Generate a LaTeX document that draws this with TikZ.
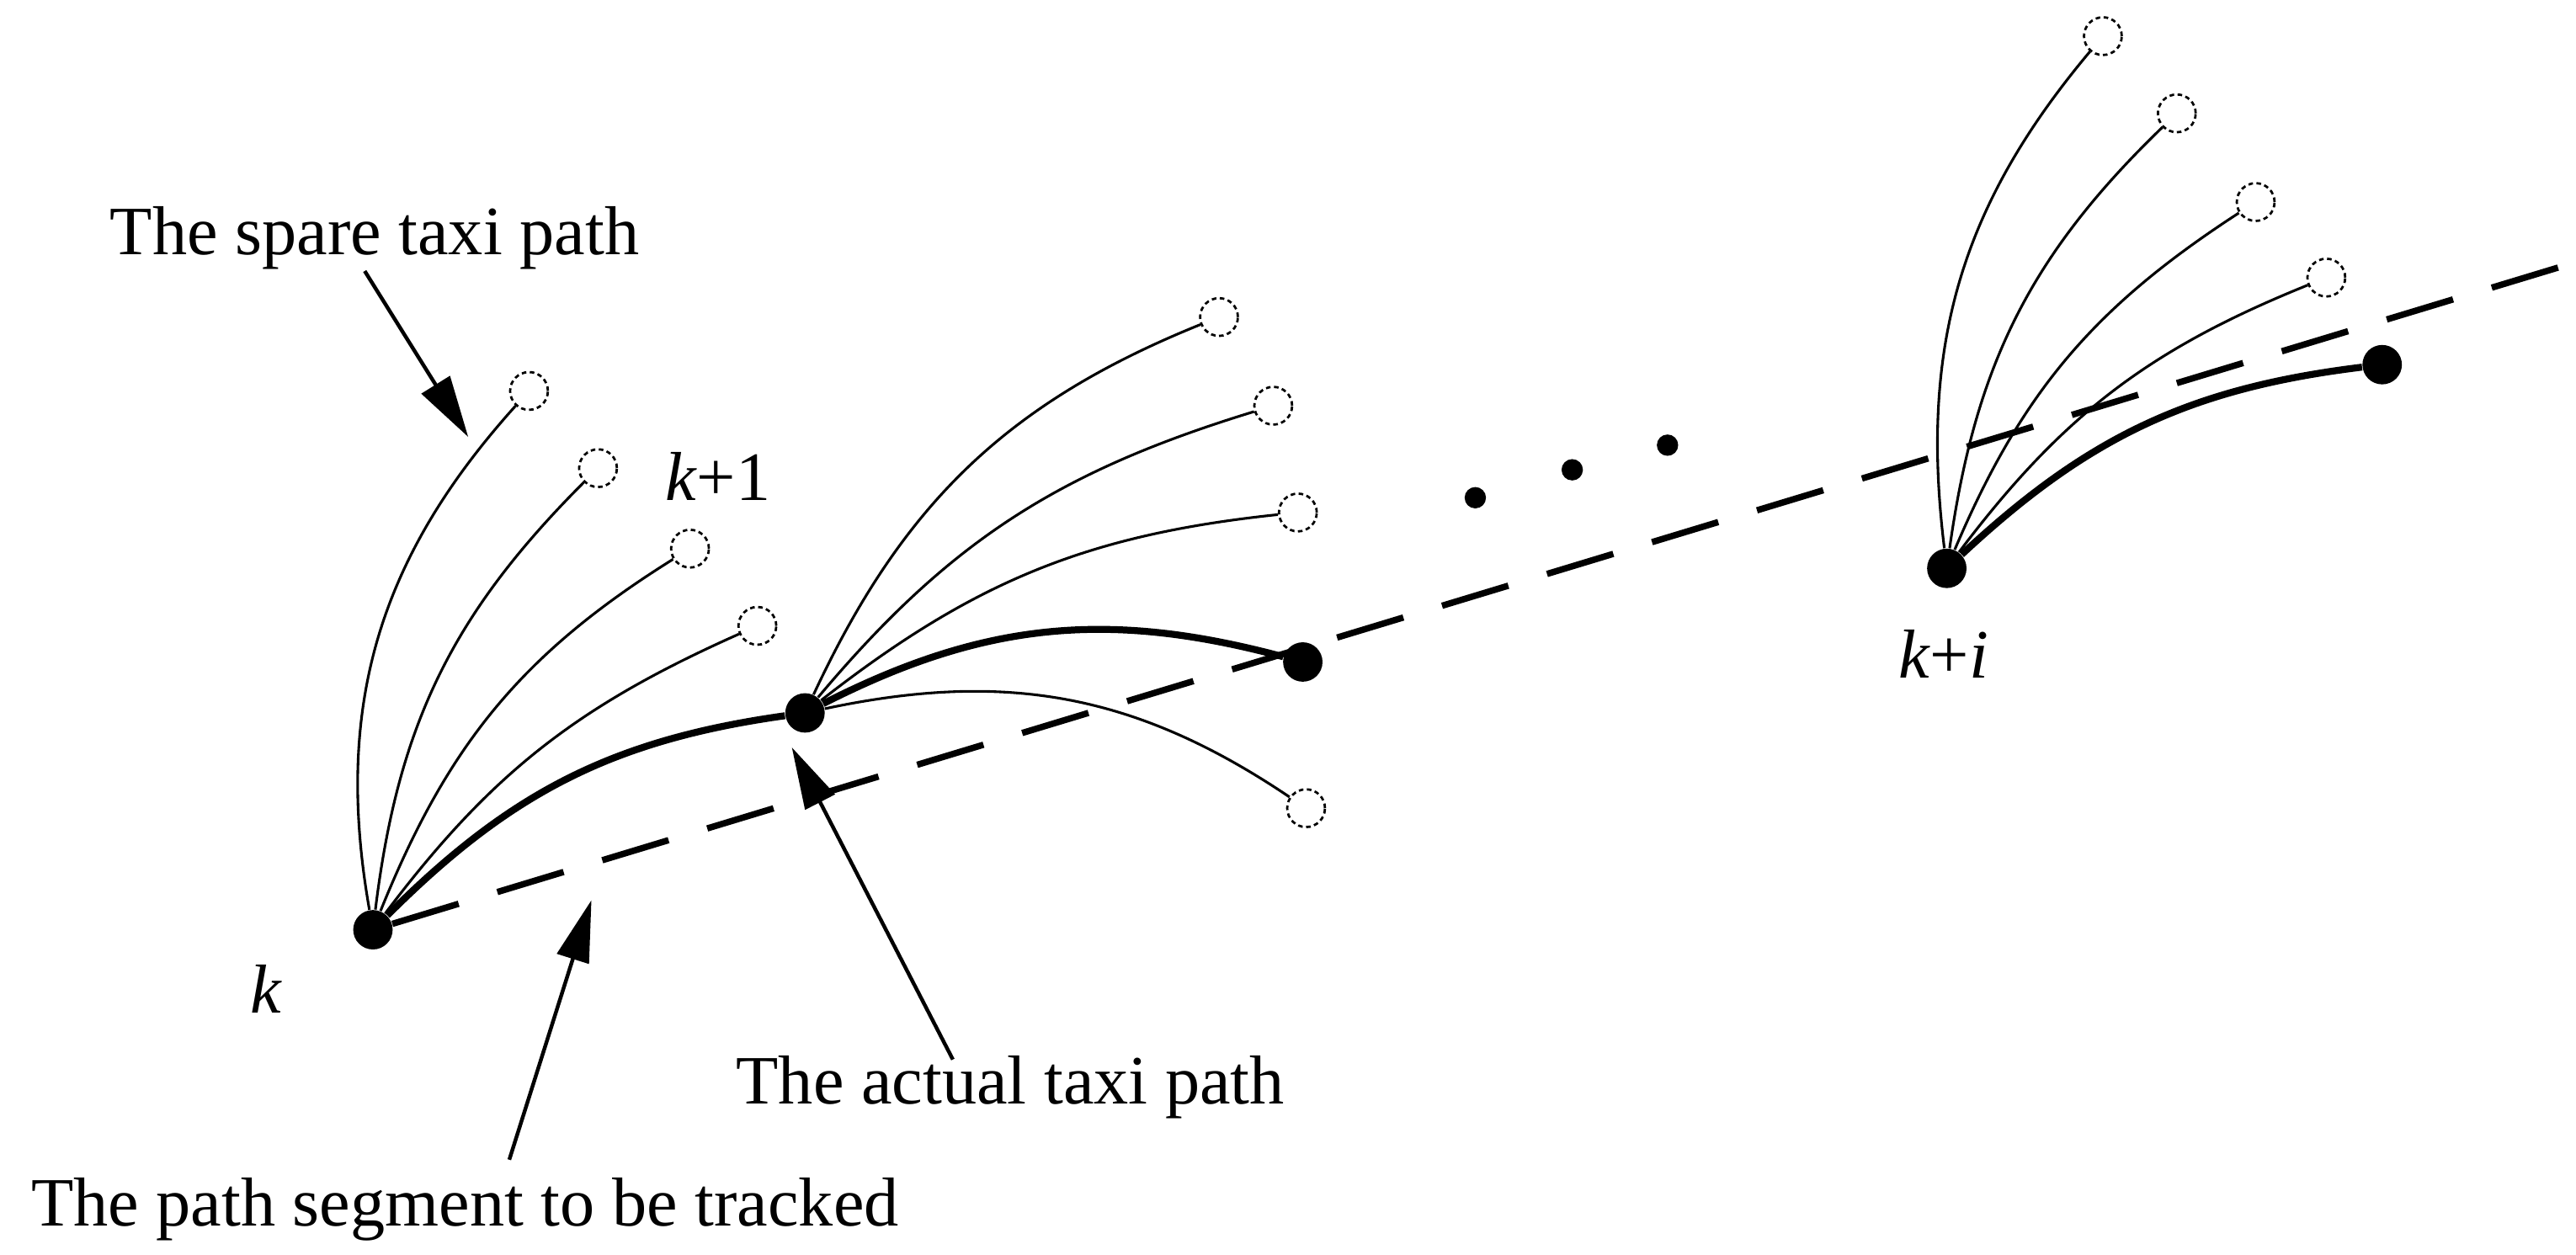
\documentclass[tikz,border=0pt]{standalone}
\usepackage{fontspec}
\setmainfont{Liberation Serif}
\usetikzlibrary{arrows.meta}
\begin{document}
\begin{tikzpicture}[x=0.02cm,y=-0.02cm,
  end/.style={circle,draw,dash pattern=on 1.6pt off 1.2pt,line width=0.8pt,minimum size=0.46cm,inner sep=0pt},
  pt/.style={circle,fill=black,minimum size=0.48cm,inner sep=0pt},
  dot/.style={circle,fill=black,minimum size=0.26cm,inner sep=0pt},
  thinp/.style={line width=0.9pt},
  boldp/.style={line width=2.4pt},
  lbl/.style={font=\fontsize{24}{28}\selectfont,inner sep=0pt},
  arr/.style={line width=1.3pt,-{Triangle[length=0.75cm,width=0.4cm]}}]
\useasboundingbox (0,0) rectangle (1568,764);
% points
\node[pt] (k) at (227,566) {};
\node[pt] (n1) at (490,434) {};
\node[pt] (n2) at (793,403) {};
\node[pt] (ki) at (1185,346) {};
\node[pt] (n3) at (1450,222) {};
\coordinate (dend) at (1560,162);
% dashed tracked segment
\draw[line width=2.2pt,dash pattern=on 24pt off 14pt] (k) -- (dend);
% end circles
\node[end] (a1) at (322,238) {};
\node[end] (a2) at (364,285) {};
\node[end] (a3) at (420,334) {};
\node[end] (a4) at (461,381) {};
\node[end] (b1) at (742,193) {};
\node[end] (b2) at (775,247) {};
\node[end] (b3) at (790,312) {};
\node[end] (b4) at (795,492) {};
\node[end] (c1) at (1280,22) {};
\node[end] (c2) at (1325,69) {};
\node[end] (c3) at (1373,123) {};
\node[end] (c4) at (1416,169) {};
% curves from k
\draw[thinp] (k) to[out=100,in=228] (a1);
\draw[thinp] (k) to[out=83,in=225] (a2);
\draw[thinp] (k) to[out=68,in=212] (a3);
\draw[thinp] (k) to[out=53,in=204] (a4);
\draw[boldp] (k) to[out=45,in=188] (n1);
% curves from n1
\draw[thinp] (n1) to[out=65,in=202] (b1);
\draw[thinp] (n1) to[out=50,in=197] (b2);
\draw[thinp] (n1) to[out=38,in=186] (b3);
\draw[boldp] (n1) to[out=27,in=165] (n2);
\draw[thinp] (n1) to[out=12,in=146] (b4);
% curves from k+i
\draw[thinp] (ki) to[out=97,in=230] (c1);
\draw[thinp] (ki) to[out=82,in=224] (c2);
\draw[thinp] (ki) to[out=67,in=213] (c3);
\draw[thinp] (ki) to[out=53,in=202] (c4);
\draw[boldp] (ki) to[out=43,in=187] (n3);
% ellipsis dots
\node[dot] (d1) at (898,303) {};
\node[dot] (d2) at (957,286) {};
\node[dot] (d3) at (1015,271) {};
% labels
\node[lbl] (spare) at (228,145) {The spare taxi path};
\node[lbl] (k1) at (437,290) {\textit{k}+1};
\node[lbl] (kl) at (162,602) {\textit{k}};
\node[lbl] (kil) at (1183,398) {\textit{k}+\textit{i}};
\node[lbl] (actual) at (615,662) {The actual taxi path};
\node[lbl] (track) at (283,736) {The path segment to be tracked};
\coordinate (s1) at (222,165);
\coordinate (t1) at (285,266);
\coordinate (s2) at (580,645);
\coordinate (t2) at (482,455);
\coordinate (s3) at (310,706);
\coordinate (t3) at (360,548);
\draw[arr] (s1) -- (t1);
\draw[arr] (s2) -- (t2);
\draw[arr] (s3) -- (t3);
\end{tikzpicture}
\end{document}
